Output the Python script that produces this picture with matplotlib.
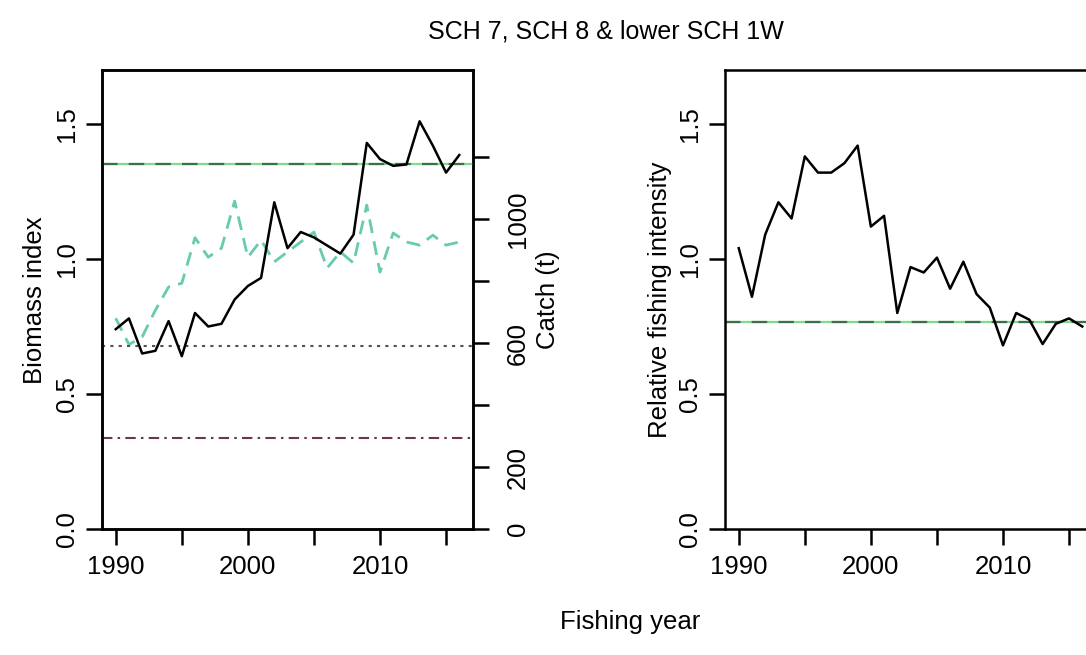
import matplotlib
matplotlib.use('Agg')
import matplotlib.pyplot as plt

# ---------------- data ----------------
years = list(range(1990, 2017))
biomass = [0.74, 0.78, 0.65, 0.66, 0.77, 0.64, 0.80, 0.75, 0.76, 0.85,
           0.90, 0.93, 1.21, 1.04, 1.10, 1.08, 1.05, 1.02, 1.09, 1.43,
           1.37, 1.345, 1.35, 1.51, 1.42, 1.32, 1.385]
catch = [680, 595, 620, 706, 781, 793, 940, 877, 906, 1058,
         877, 932, 862, 894, 926, 958, 842, 894, 858, 1045,
         829, 955, 926, 916, 948, 916, 926]
fishing_intensity = [1.04, 0.86, 1.09, 1.21, 1.15, 1.38, 1.32, 1.32, 1.355, 1.42,
                     1.12, 1.16, 0.80, 0.97, 0.95, 1.005, 0.89, 0.99, 0.87, 0.82,
                     0.68, 0.80, 0.775, 0.685, 0.76, 0.78, 0.75]
target_biomass = 1.352
soft_limit = 0.676
hard_limit = 0.338
target_intensity = 0.767

x_ticks = [1990, 1995, 2000, 2005, 2010, 2015]
x_labels = ['1990', '', '2000', '', '2010', '']
y_ticks = [0.0, 0.5, 1.0, 1.5]
y_labels = ['0.0', '0.5', '1.0', '1.5']
catch_ticks = [0, 200, 400, 600, 800, 1000, 1200]
catch_labels = ['0', '200', '', '600', '', '1000', '']

title = 'SCH 7, SCH 8 & lower SCH 1W'

# ---------------- style ----------------
plt.rcParams['font.family'] = ['Liberation Sans', 'DejaVu Sans']
FS = 18.5
LW = 1.8

W, H = 1086, 655
fig = plt.figure(figsize=(W / 100, H / 100), dpi=100)

def px_axes(left, top, right, bottom):
    return [left / W, 1 - bottom / H, (right - left) / W, (bottom - top) / H]

def style(ax):
    for s in ax.spines.values():
        s.set_linewidth(LW)
    ax.tick_params(direction='out', length=11.5, width=LW, labelsize=FS)
    ax.tick_params(axis='x', pad=7)
    ax.tick_params(axis='y', pad=5)

xlim = (1988.96, 2017.04)

# ---- left panel ----
ax1 = fig.add_axes(px_axes(102, 70, 473, 529))
ax1.set_xlim(*xlim)
ax1.set_ylim(0, 1.7)
ax1.axhline(target_biomass, color='#7fdc8c', lw=1.6, zorder=1)
ax1.axhline(target_biomass, color='#3e6e4a', lw=1.6, dashes=(7, 5), zorder=2)
ax1.axhline(soft_limit, color='#5a5050', lw=1.5, dashes=(1.5, 2.5), zorder=2)
ax1.axhline(hard_limit, color='#6a3a3e', lw=1.5, dashes=(5, 2.5, 1.2, 2.5), zorder=2)
ax1.set_xticks(x_ticks)
ax1.set_xticklabels(x_labels)
ax1.set_yticks(y_ticks)
ax1.set_yticklabels(y_labels, rotation=90, va='center')
style(ax1)

ax2 = ax1.twinx()
ax2.set_ylim(0, 1481)
ax2.plot(years, catch, color='#66cbb0', lw=2.0, dashes=(5, 3), zorder=3)
ax2.set_yticks(catch_ticks)
ax2.set_yticklabels(catch_labels, rotation=90, va='center')
style(ax2)
ax2.tick_params(axis='y', pad=12)
ax1.set_zorder(ax2.get_zorder() + 1)
ax1.patch.set_visible(False)
ax1.plot(years, biomass, color='black', lw=LW, zorder=4)

# ---- right panel ----
ax3 = fig.add_axes(px_axes(725, 70, 1096, 529))
ax3.set_xlim(*xlim)
ax3.set_ylim(0, 1.7)
ax3.axhline(target_intensity, color='#7fdc8c', lw=1.6, zorder=1)
ax3.axhline(target_intensity, color='#3e6e4a', lw=1.6, dashes=(7, 5), zorder=2)
ax3.plot(years, fishing_intensity, color='black', lw=LW, zorder=4)
ax3.set_xticks(x_ticks)
ax3.set_xticklabels(x_labels)
ax3.set_yticks(y_ticks)
ax3.set_yticklabels(y_labels, rotation=90, va='center')
style(ax3)

# ---- labels ----
fig.text(35 / W, 1 - 300 / H, 'Biomass index', rotation=90, ha='center', va='center', fontsize=FS)
fig.text(548 / W, 1 - 300 / H, 'Catch (t)', rotation=90, ha='center', va='center', fontsize=FS)
fig.text(660 / W, 1 - 300 / H, 'Relative fishing intensity', rotation=90, ha='center', va='center', fontsize=FS)
fig.text(630 / W, 1 - 622 / H, 'Fishing year', ha='center', va='center', fontsize=FS)
fig.text(606 / W, 1 - 32 / H, title, ha='center', va='center', fontsize=18)

fig.savefig('out.png', dpi=100)
